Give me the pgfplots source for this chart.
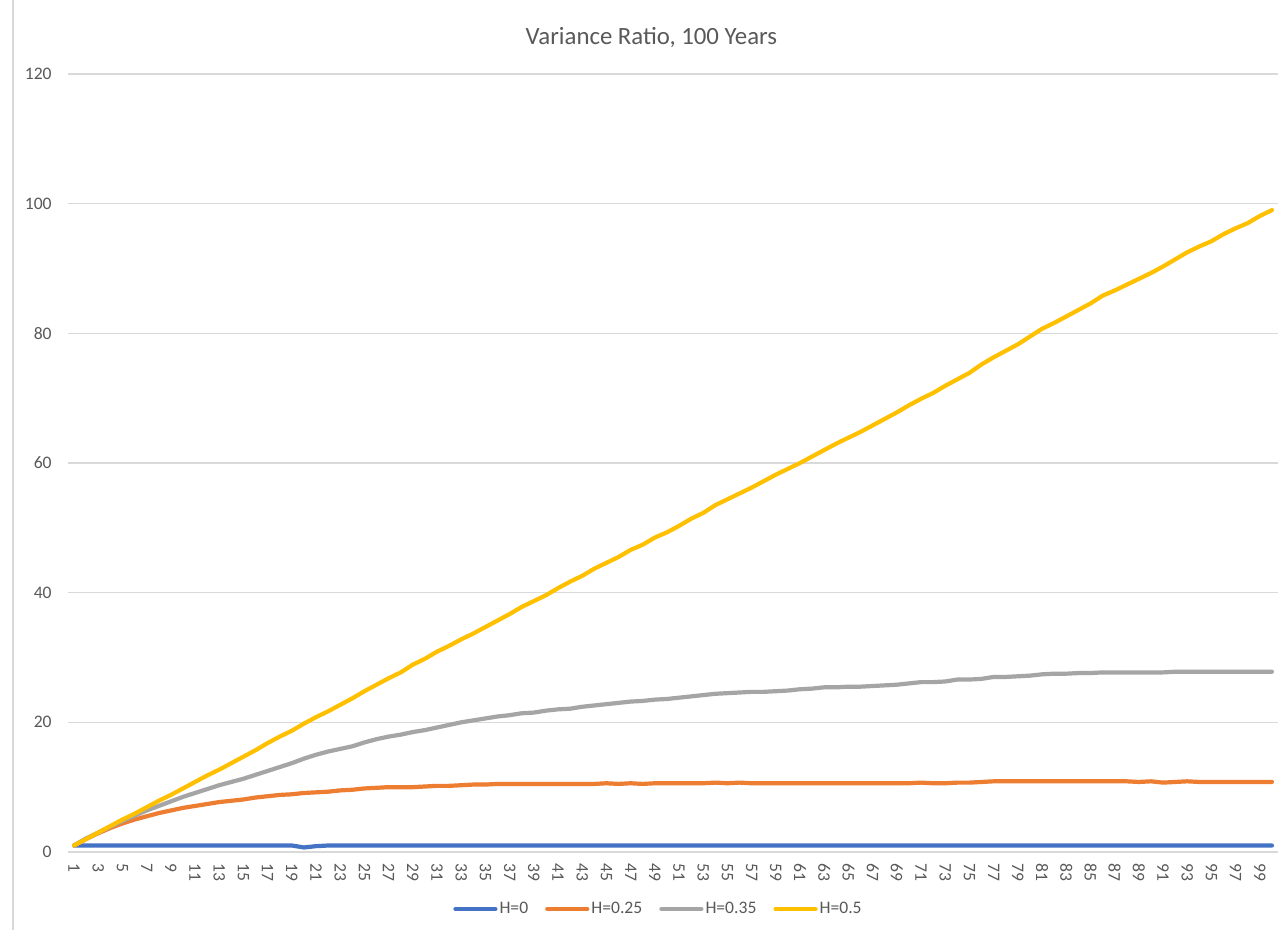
\documentclass[border=0pt]{standalone}
\usepackage{pgfplots}
\pgfplotsset{compat=1.18}
\usepackage{pgfplotstable}
\usepackage{fontspec}
\setmainfont{Carlito}
\definecolor{sblue}{HTML}{4472C4}
\definecolor{sorange}{HTML}{ED7D31}
\definecolor{sgray}{HTML}{A5A5A5}
\definecolor{syellow}{HTML}{FFC000}
\definecolor{gridc}{HTML}{D9D9D9}
\definecolor{txt}{HTML}{595959}
\pgfplotstableread{
n h0 h25 h35 h5
1 1 1 1 1
2 1 2.0 2.1 2.0
3 1 2.9 3.0 3.0
4 1 3.7 3.9 4.0
5 1 4.4 4.8 5.0
6 1 5.0 5.6 5.9
7 1 5.5 6.4 6.9
8 1 6.0 7.1 7.9
9 1 6.4 7.8 8.8
10 1 6.8 8.5 9.8
11 1 7.1 9.1 10.8
12 1 7.4 9.7 11.8
13 1 7.7 10.3 12.7
14 1 7.9 10.8 13.7
15 1 8.1 11.3 14.7
16 1 8.4 11.9 15.7
17 1 8.6 12.5 16.8
18 1 8.8 13.1 17.8
19 1 8.9 13.7 18.7
20 0.7 9.1 14.4 19.8
21 0.9 9.2 15.0 20.8
22 1 9.3 15.5 21.7
23 1 9.5 15.9 22.7
24 1 9.6 16.3 23.7
25 1 9.8 16.9 24.8
26 1 9.9 17.4 25.8
27 1 10.0 17.8 26.8
28 1 10.0 18.1 27.7
29 1 10.0 18.5 28.9
30 1 10.1 18.8 29.8
31 1 10.2 19.2 30.9
32 1 10.2 19.6 31.8
33 1 10.3 20.0 32.8
34 1 10.4 20.3 33.7
35 1 10.4 20.6 34.7
36 1 10.5 20.9 35.7
37 1 10.5 21.1 36.7
38 1 10.5 21.4 37.8
39 1 10.5 21.5 38.7
40 1 10.5 21.8 39.6
41 1 10.5 22.0 40.7
42 1 10.5 22.1 41.7
43 1 10.5 22.4 42.6
44 1 10.5 22.6 43.7
45 1 10.6 22.8 44.6
46 1 10.5 23.0 45.5
47 1 10.6 23.2 46.6
48 1 10.5 23.3 47.4
49 1 10.6 23.5 48.5
50 1 10.6 23.6 49.3
51 1 10.6 23.8 50.3
52 1 10.6 24.0 51.4
53 1 10.6 24.2 52.3
54 1 10.7 24.4 53.5
55 1 10.6 24.5 54.4
56 1 10.7 24.6 55.3
57 1 10.6 24.7 56.2
58 1 10.6 24.7 57.2
59 1 10.6 24.8 58.2
60 1 10.6 24.9 59.1
61 1 10.6 25.1 60.0
62 1 10.6 25.2 61.0
63 1 10.6 25.4 62.0
64 1 10.6 25.4 63.0
65 1 10.6 25.5 63.9
66 1 10.6 25.5 64.8
67 1 10.6 25.6 65.8
68 1 10.6 25.7 66.8
69 1 10.6 25.8 67.8
70 1 10.6 26.0 68.9
71 1 10.7 26.2 69.9
72 1 10.6 26.2 70.8
73 1 10.6 26.3 71.9
74 1 10.7 26.6 72.9
75 1 10.7 26.6 73.9
76 1 10.8 26.7 75.2
77 1 10.9 27.0 76.3
78 1 10.9 27.0 77.3
79 1 10.9 27.1 78.3
80 1 10.9 27.2 79.5
81 1 10.9 27.4 80.7
82 1 10.9 27.5 81.6
83 1 10.9 27.5 82.6
84 1 10.9 27.6 83.6
85 1 10.9 27.6 84.6
86 1 10.9 27.7 85.8
87 1 10.9 27.7 86.6
88 1 10.9 27.7 87.5
89 1 10.8 27.7 88.4
90 1 10.9 27.7 89.3
91 1 10.7 27.7 90.3
92 1 10.8 27.8 91.4
93 1 10.9 27.8 92.5
94 1 10.8 27.8 93.4
95 1 10.8 27.8 94.2
96 1 10.8 27.8 95.3
97 1 10.8 27.8 96.2
98 1 10.8 27.8 97.0
99 1 10.8 27.8 98.1
100 1 10.8 27.8 99.0
}\datatable
\begin{document}
\begin{tikzpicture}
\useasboundingbox (0,0) rectangle (640.5pt,465pt);
\fill[white] (0,0) rectangle (640.5pt,465pt);
\draw[gridc, line width=0.8pt] (6.5pt,0) -- (6.5pt,465pt);
\begin{axis}[
  at={(34pt,39pt)}, anchor=south west,
  scale only axis, width=605pt, height=389pt,
  xmin=0.5, xmax=100.5, ymin=0, ymax=120,
  xtick={1,3,...,99}, ytick={0,20,...,120},
  axis x line*=bottom, axis y line*=left,
  x axis line style={draw=gridc, line width=0.8pt, -},
  y axis line style={draw=none, -},
  major tick length=0pt,
  ymajorgrids, grid style={gridc, line width=0.8pt},
  /pgf/number format/assume math mode=true,
  ticklabel style={font=\fontsize{8.8}{10}\selectfont, text=txt},
  xticklabel style={rotate=-90, anchor=west, inner sep=0pt},
  yticklabel style={anchor=east, inner sep=0pt},
  xticklabel shift=5.5pt, yticklabel shift=8pt,
  legend columns=4,
  legend style={at={(0.488,-0.0733)}, anchor=center, draw=none, fill=none,
    font=\fontsize{8.8}{10}\selectfont, text=txt,
    nodes={inner xsep=1pt},
    /tikz/every even column/.style={column sep=7.5pt},
    inner sep=0pt},
  legend image code/.code={\draw[#1, line cap=round] (0pt,0pt) -- (20pt,0pt);},
  every axis plot/.append style={line width=2.1pt, line join=round, line cap=round, mark=none},
]
\addplot[sblue] table[x=n, y=h0] {\datatable};
\addlegendentry{H=0}
\addplot[sorange] table[x=n, y=h25] {\datatable};
\addlegendentry{H=0.25}
\addplot[sgray] table[x=n, y=h35] {\datatable};
\addlegendentry{H=0.35}
\addplot[syellow] table[x=n, y=h5] {\datatable};
\addlegendentry{H=0.5}
\end{axis}
\node[anchor=base, text=txt, font=\fontsize{12.4}{14}\selectfont] at (325.7pt,442.5pt) {Variance Ratio, 100 Years};
\end{tikzpicture}
\end{document}
